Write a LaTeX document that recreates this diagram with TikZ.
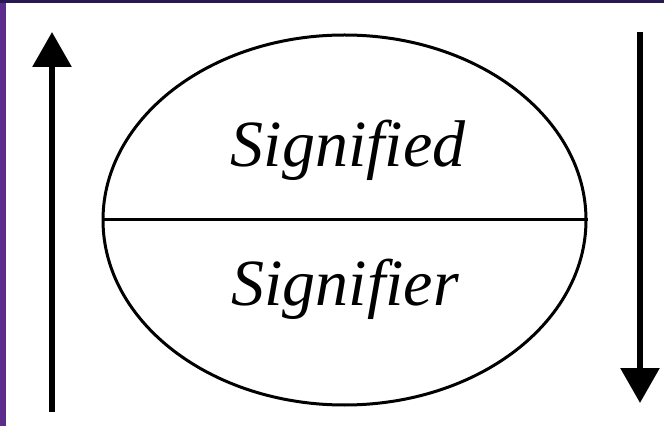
\documentclass[tikz,border=0pt]{standalone}
\usepackage{fontspec}
\setmainfont{Liberation Serif}
\usetikzlibrary{arrows.meta,shapes.geometric}
\definecolor{framepurple}{RGB}{92,44,140}
\definecolor{framedark}{RGB}{40,24,84}
\tikzset{
  outline/.style={
    line width=3pt,
    line join=round
  },
  pointer/.style={
    line width=6pt,
    -{Triangle[length=35pt,width=38pt]}
  },
  term/.style={
    font=\fontsize{66}{66}\selectfont\itshape,
    inner sep=0pt,
    anchor=base
  }
}

\begin{document}
\begin{tikzpicture}[x=1pt,y=1pt]
  \useasboundingbox (0,0) rectangle (664,426);
  \fill[framepurple] (0,0) rectangle (664,426);
  \fill[framedark] (0,423) rectangle (664,426);
  \fill[white] (6,0) rectangle (664,423);
  % the sign
  \node[ellipse, draw, outline, minimum width=483pt, minimum height=370pt,
    inner sep=0pt] (sign) at (344.5,206) {};
  \draw[outline] (sign.west) -- (sign.east);
  \node[term] (signified) at (348,259) {Signified};
  \node[term] (signifier) at (345,121) {Signifier};
  % arrows
  \coordinate (upfoot) at (52,14);
  \coordinate (uptip) at (52,394);
  \coordinate (downfoot) at (640,394);
  \coordinate (downtip) at (640,23);
  \draw[pointer] (upfoot) -- (uptip);
  \draw[pointer] (downfoot) -- (downtip);
\end{tikzpicture}
\end{document}
